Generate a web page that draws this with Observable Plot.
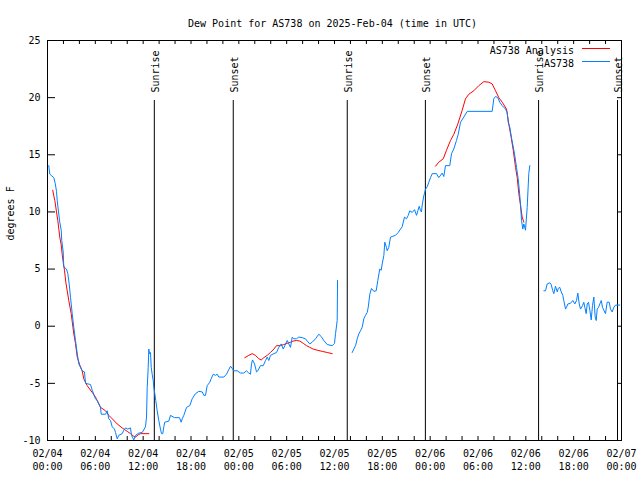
<!DOCTYPE html>
<html><head><meta charset="utf-8">
<script src="https://cdn.jsdelivr.net/npm/d3@7"></script>
<script src="https://cdn.jsdelivr.net/npm/@observablehq/plot@0.6"></script>
<style>
body{margin:0;background:#fff}
#wrap{position:relative;width:640px;height:480px}
#wrap svg{display:block}
#legend{position:absolute;left:0;top:0;pointer-events:none}
</style>
</head><body><div id="wrap"><div id="chart"></div></div>
<script>
// ---- data ----
const title = "Dew Point for AS738 on 2025-Feb-04 (time in UTC)";
const yLabel = "degrees F";
const startUTC = Date.UTC(2025, 1, 4, 0, 0);

// AS738 observations: hours since 2025-02-04 00:00 UTC, dew point (F); null = gap
const obsHours = [0.16,0.29,0.46,0.79,0.97,1.13,1.22,1.38,1.54,1.72,1.79,1.97,2.04,2.38,2.55,2.72,2.89,3.10,3.30,3.51,3.73,3.93,4.14,4.35,4.64,4.77,5.39,5.61,6.02,6.23,6.65,6.74,7.28,7.49,7.69,7.90,8.12,8.40,8.53,8.74,8.94,9.37,9.57,9.78,10.07,10.41,10.54,10.83,11.04,11.45,11.88,12.29,12.42,12.51,12.63,12.71,12.79,12.92,13.01,13.13,13.26,13.33,13.46,13.58,13.76,13.96,14.17,14.30,14.46,14.59,14.71,15.22,15.43,15.93,16.56,16.77,16.90,17.10,17.44,17.85,18.15,18.56,18.98,19.41,19.61,19.82,20.03,20.36,20.53,20.79,21.07,21.29,21.49,22.12,22.45,22.74,22.96,23.17,23.37,23.80,24.21,24.62,24.96,25.25,25.46,25.59,25.72,25.97,26.22,26.38,26.72,27.06,27.35,27.56,27.76,27.97,28.39,28.73,29.01,29.32,29.57,29.77,30.07,30.27,30.48,30.70,30.90,31.23,31.52,31.95,32.36,32.58,32.90,33.20,33.62,34.03,34.33,34.66,35.09,35.71,36.00,36.13,36.34,36.38,
37.3,
38.22,38.42,38.64,38.85,39.05,39.26,39.47,39.68,39.89,40.10,40.23,40.43,40.64,40.93,41.23,41.43,41.68,41.86,41.98,42.19,42.31,42.52,42.61,42.81,43.03,43.24,43.65,43.99,44.28,44.49,44.78,45.03,45.25,45.45,45.75,46.04,46.29,46.45,46.63,46.79,46.91,47.00,47.20,47.42,47.63,47.83,48.04,48.26,48.80,49.08,49.51,49.71,49.92,50.46,50.68,50.96,51.30,51.52,51.81,52.22,52.65,55.78,55.98,56.20,56.48,56.73,57.04,57.45,57.66,57.79,57.99,58.20,58.42,58.62,58.83,59.04,59.17,59.33,59.46,59.62,59.75,59.96,60.17,60.37,60.50,
61.4,
62.26,62.47,62.68,63.01,63.18,63.38,63.51,63.72,63.94,64.06,64.26,64.44,64.64,64.76,64.98,65.10,65.27,65.60,65.89,66.15,66.36,66.52,66.70,66.86,67.11,67.27,67.40,67.57,67.70,67.86,68.03,68.20,68.36,68.53,68.70,68.83,68.95,69.12,69.28,69.46,69.62,69.78,69.99,70.20,70.46,70.62,70.83,71.03,71.25,71.79];
const obsDew = [14.06,13.3,13.2,13.0,12.5,11.8,11.0,10.0,9.1,8.4,7.5,6.5,5.2,5.0,4.6,3.7,2.5,1.1,-0.1,-1.25,-2.4,-3.3,-3.6,-3.9,-4.0,-5.0,-5.1,-5.6,-6.35,-6.5,-7.1,-7.7,-7.7,-7.4,-8.1,-8.25,-8.8,-9.0,-9.3,-9.85,-9.55,-9.4,-9.1,-8.9,-9.0,-8.9,-9.55,-9.95,-9.55,-9.35,-9.3,-8.8,-7.95,-5.35,-3.6,-2.0,-2.4,-2.3,-3.6,-4.2,-4.75,-5.35,-5.9,-6.5,-7.4,-8.25,-9.0,-9.4,-9.4,-8.8,-8.4,-8.3,-7.8,-8.0,-8.0,-8.4,-8.1,-7.8,-7.1,-6.95,-6.35,-5.9,-5.7,-5.75,-6.05,-6.05,-5.2,-4.9,-4.6,-4.2,-4.3,-4.2,-4.45,-4.45,-4.2,-3.8,-3.5,-3.7,-3.9,-3.9,-4.1,-4.1,-3.9,-4.1,-4.2,-3.3,-2.95,-3.3,-4.0,-3.9,-3.45,-3.45,-3.0,-2.7,-3.0,-2.55,-2.4,-2.3,-1.85,-1.55,-2.0,-1.7,-1.25,-1.55,-1.85,-0.95,-1.1,-1.1,-0.95,-1.0,-1.1,-1.3,-1.55,-1.4,-1.1,-0.7,-0.9,-1.25,-1.6,-1.7,-1.5,-0.65,0.5,4.0,
null,
-2.3,-2.0,-1.7,-1.1,-0.67,-0.4,-0.1,0.65,0.95,1.2,1.65,2.8,3.3,3.05,3.1,4.0,5.0,4.9,5.45,6.2,7.35,6.9,6.6,6.9,7.8,7.85,7.95,8.2,8.5,8.7,9.55,9.4,9.7,10.1,9.95,10.2,9.7,10.1,10.5,10.1,10.0,10.6,11.4,12.0,12.2,12.6,13.0,13.35,13.35,13.0,13.4,13.1,14.05,14.05,15.1,15.5,16.25,16.8,17.85,18.3,18.8,18.8,19.9,20.1,20.0,19.6,19.3,19.0,18.7,17.85,17.4,16.5,15.7,14.9,13.9,12.9,12.0,10.7,9.25,8.5,8.95,8.4,10.4,13.35,14.05,
null,
3.1,3.1,3.7,3.8,3.65,3.1,2.85,3.5,3.0,3.3,3.4,3.0,2.7,2.25,1.5,1.65,1.95,2.0,2.25,1.95,2.25,2.9,1.95,1.5,1.8,2.1,1.65,1.1,1.95,2.1,1.4,0.55,1.8,2.55,0.8,0.5,1.5,1.65,1.95,2.25,1.65,1.4,1.1,2.1,2.1,1.5,1.25,1.65,1.85,1.85];

// AS738 Analysis: hours since start, dew point (F); null = gap
const anaHours = [0.66,0.79,0.92,1.13,1.29,1.42,1.54,1.72,1.84,1.97,2.13,2.30,2.47,2.67,2.97,3.30,3.51,3.73,4.05,4.35,4.55,4.98,5.61,6.02,6.65,7.28,7.69,8.12,8.74,9.37,10.00,10.41,10.75,11.04,11.38,11.67,12.71,
18.0,
24.75,25.25,25.67,26.09,26.51,26.81,27.13,27.56,27.97,28.39,28.73,29.23,29.64,30.07,30.48,30.82,31.23,31.65,32.08,32.49,32.90,33.33,33.83,34.46,35.09,35.71,
42.0,
48.67,49.08,49.64,50.05,50.55,50.97,51.47,52.02,52.43,52.85,53.47,54.10,54.73,55.36,55.78,56.20,56.61,57.04,57.58,57.86,58.17,58.42,58.71,58.92,59.12,59.33,59.54,59.75];
const anaDew = [11.9,11.4,11.0,10.0,9.25,8.5,7.8,7.1,6.3,5.6,4.9,3.85,3.1,2.25,1.1,-0.67,-1.5,-2.7,-3.4,-3.9,-4.6,-5.2,-5.8,-6.2,-7.1,-7.4,-7.8,-8.1,-8.55,-8.9,-9.2,-9.4,-9.6,-9.7,-9.5,-9.4,-9.4,
null,
-2.75,-2.55,-2.4,-2.55,-2.85,-2.95,-2.75,-2.55,-2.3,-2.0,-1.7,-1.7,-1.6,-1.5,-1.4,-1.3,-1.25,-1.3,-1.5,-1.7,-1.85,-2.0,-2.1,-2.2,-2.3,-2.4,
null,
14.0,14.35,14.65,15.4,16.25,16.8,17.7,18.9,19.9,20.3,20.6,21.05,21.4,21.35,21.2,20.6,20.0,19.6,19.0,17.7,16.5,15.4,13.9,13.0,11.6,10.6,9.55,9.1];

const sunHours = [13.4, 23.3, 37.6, 47.4, 61.6, 71.5];
const sunLabels = ["Sunrise", "Sunset", "Sunrise", "Sunset", "Sunrise", "Sunset"];
const yTicks = [-10, -5, 0, 5, 10, 15, 20, 25];
const xLabelHours = [0, 6, 12, 18, 24, 30, 36, 42, 48, 54, 60, 66, 72];
const xTickHours = d3.range(0, 73, 2);
const seriesNames = ["AS738 Analysis", "AS738"];
const seriesColors = ["#ff0000", "#0080ff"];

// ---- build ----
const toDate = h => new Date(startUTC + h * 3600e3);
const obs = obsHours.map((h, i) => ({t: toDate(h), v: obsDew[i]}));
const ana = anaHours.map((h, i) => ({t: toDate(h), v: anaDew[i]}));
const sun = sunHours.map((h, i) => ({t: toDate(h), label: sunLabels[i]}));
const xLabelDates = xLabelHours.map(toDate);
const xTickDates = xTickHours.map(toDate);

const W = 640, H = 480, mL = 47, mR = 19, mT = 40, mB = 40;
const fw = W - mL - mR, fh = H - mT - mB;
const tk = 4;
const fmt = d3.utcFormat("%m/%d\n%H:%M");

const chart = Plot.plot({
  width: W, height: H,
  marginLeft: mL, marginRight: mR, marginTop: mT, marginBottom: mB,
  style: {fontFamily: "'DejaVu Sans Mono', monospace", fontSize: "10px", background: "#fff", color: "#000"},
  x: {type: "utc", domain: [toDate(0), toDate(72)]},
  y: {domain: [-10, 25]},
  marks: [
    Plot.ruleX(sun, {x: "t", insetTop: 60, stroke: "#000", strokeWidth: 1}),
    Plot.text(sun, {x: "t", text: "label", frameAnchor: "top", rotate: -90, textAnchor: "start", dy: 52, dx: -2.5, fill: "#000"}),
    Plot.line(ana, {x: "t", y: "v", stroke: seriesColors[0], strokeWidth: 1, curve: "linear"}),
    Plot.line(obs, {x: "t", y: "v", stroke: seriesColors[1], strokeWidth: 1, curve: "linear"}),
    Plot.ruleX(xTickDates, {x: d => d, insetTop: fh - tk, stroke: "#000"}),
    Plot.ruleX(xTickDates, {x: d => d, insetBottom: fh - tk, stroke: "#000"}),
    Plot.ruleY(yTicks, {y: d => d, insetRight: fw - tk * 2, stroke: "#000"}),
    Plot.ruleY(yTicks, {y: d => d, insetLeft: fw - tk, stroke: "#000"}),
    Plot.frame({stroke: "#000", strokeWidth: 1}),
    Plot.axisY({ticks: yTicks, tickSize: 0, tickPadding: 7, label: null, tickFormat: d => String(d)}),
    Plot.axisX({ticks: xLabelDates, tickSize: 0, tickPadding: 7, label: null, tickFormat: fmt, lineHeight: 1.3}),
    Plot.text([yLabel], {text: d => d, frameAnchor: "left", dx: -37, rotate: -90}),
    Plot.text([title], {text: d => d, frameAnchor: "top", dy: -21, dx: -2})
  ]
});
document.getElementById("chart").appendChild(chart);

// legend overlay
const lg = d3.select("#wrap").append("svg").attr("id", "legend").attr("width", W).attr("height", H)
  .style("font-family", "'DejaVu Sans Mono', monospace").style("font-size", "10px");
seriesNames.forEach((name, i) => {
  const yy = 50 + i * 13;
  lg.append("text").attr("x", 574).attr("y", yy).attr("dy", "0.35em").attr("text-anchor", "end").attr("fill", "#000").text(name);
  lg.append("line").attr("x1", 582).attr("x2", 610).attr("y1", yy - 1.5).attr("y2", yy - 1.5).attr("stroke", seriesColors[i]).attr("stroke-width", 1);
});
</script>
</body></html>
